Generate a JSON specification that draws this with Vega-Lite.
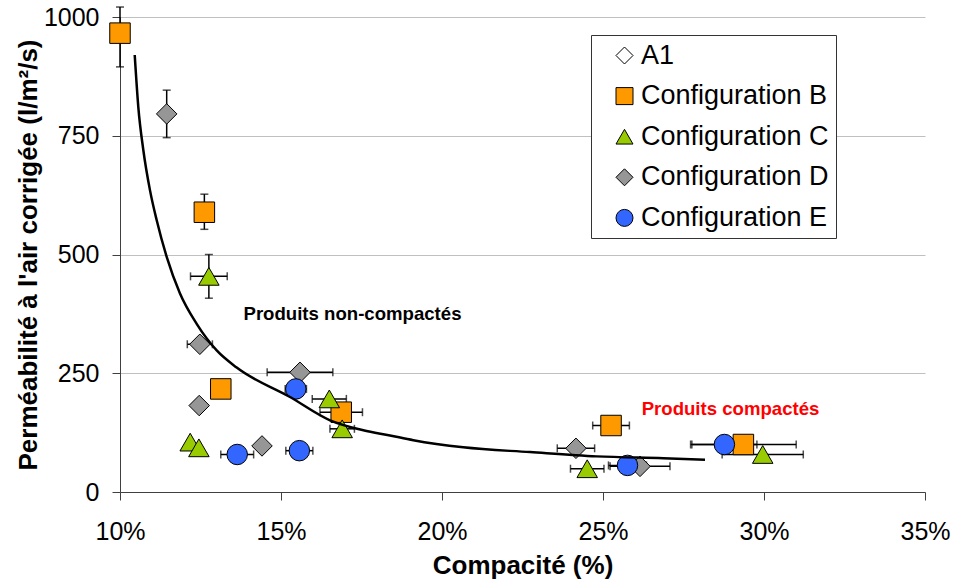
{
  "$schema": "https://vega.github.io/schema/vega-lite/v6.json",
  "width": 805,
  "height": 475,
  "autosize": {"type": "none"},
  "padding": {"left": 120, "top": 17, "right": 29, "bottom": 92},
  "background": "white",
  "config": {
    "font": "Liberation Sans",
    "view": {"stroke": null},
    "axis": {
      "labelFont": "Liberation Sans",
      "titleFont": "Liberation Sans",
      "labelFontSize": 25,
      "titleFontSize": 26,
      "titleFontWeight": "bold",
      "labelColor": "black",
      "titleColor": "black",
      "domainColor": "#404040",
      "tickColor": "#404040",
      "tickSize": 8,
      "domainWidth": 1,
      "tickWidth": 1,
      "labelFlush": false
    },
    "legend": {
      "orient": "none",
      "legendX": 471,
      "legendY": 18,
      "strokeColor": "#333333",
      "fillColor": "white",
      "padding": 7,
      "symbolOffset": 13,
      "labelOffset": 3,
      "rowPadding": 12.6,
      "labelFont": "Liberation Sans",
      "labelFontSize": 27,
      "labelLimit": 400,
      "labelColor": "black",
      "symbolSize": 289,
      "symbolStrokeColor": "black",
      "symbolStrokeWidth": 1
    }
  },
  "datasets": {
    "pts": [
      {"config": "Configuration B", "x": 10.0, "y": 966, "ylo": 895, "yhi": 1021},
      {"config": "Configuration B", "x": 12.62, "y": 589, "ylo": 553, "yhi": 627},
      {"config": "Configuration B", "x": 13.13, "y": 217},
      {"config": "Configuration B", "x": 16.87, "y": 168, "xlo": 16.21, "xhi": 17.53},
      {"config": "Configuration B", "x": 25.25, "y": 140, "xlo": 24.68, "xhi": 25.82},
      {"config": "Configuration B", "x": 29.36, "y": 100, "xlo": 27.72, "xhi": 31.0},
      {"config": "Configuration C", "x": 12.76, "y": 454, "xlo": 12.19, "xhi": 13.33, "ylo": 408, "yhi": 500},
      {"config": "Configuration C", "x": 12.18, "y": 105},
      {"config": "Configuration C", "x": 12.45, "y": 93},
      {"config": "Configuration C", "x": 16.5, "y": 196, "xlo": 15.97, "xhi": 17.03},
      {"config": "Configuration C", "x": 16.9, "y": 133, "xlo": 16.52, "xhi": 17.28},
      {"config": "Configuration C", "x": 24.51, "y": 49, "xlo": 23.99, "xhi": 25.03},
      {"config": "Configuration C", "x": 29.96, "y": 79, "xlo": 28.7, "xhi": 31.22},
      {"config": "Configuration D", "x": 11.45, "y": 796, "ylo": 746, "yhi": 846},
      {"config": "Configuration D", "x": 12.48, "y": 311, "xlo": 12.09, "xhi": 12.87},
      {"config": "Configuration D", "x": 15.59, "y": 252, "xlo": 14.57, "xhi": 16.61},
      {"config": "Configuration D", "x": 12.46, "y": 182},
      {"config": "Configuration D", "x": 14.41, "y": 97},
      {"config": "Configuration D", "x": 24.16, "y": 92, "xlo": 23.58, "xhi": 24.74},
      {"config": "Configuration D", "x": 26.15, "y": 54, "xlo": 25.22, "xhi": 27.08},
      {"config": "Configuration E", "x": 15.46, "y": 217, "xlo": 15.13, "xhi": 15.79},
      {"config": "Configuration E", "x": 13.64, "y": 79, "xlo": 13.13, "xhi": 14.15},
      {"config": "Configuration E", "x": 15.57, "y": 87, "xlo": 15.15, "xhi": 15.99},
      {"config": "Configuration E", "x": 25.76, "y": 56, "xlo": 25.17, "xhi": 26.35},
      {"config": "Configuration E", "x": 28.77, "y": 100, "xlo": 27.76, "xhi": 29.78}
    ],
    "curve": [
      {"x": 10.457, "y": 920},
      {"x": 10.568, "y": 811},
      {"x": 10.724, "y": 720},
      {"x": 10.932, "y": 635},
      {"x": 11.14, "y": 572},
      {"x": 11.45, "y": 495},
      {"x": 11.863, "y": 418},
      {"x": 12.382, "y": 354},
      {"x": 13.003, "y": 298},
      {"x": 13.624, "y": 262},
      {"x": 15.28, "y": 200},
      {"x": 16.522, "y": 151},
      {"x": 17.556, "y": 130},
      {"x": 18.385, "y": 119},
      {"x": 19.109, "y": 109},
      {"x": 20.661, "y": 94},
      {"x": 22.733, "y": 84},
      {"x": 24.804, "y": 75},
      {"x": 26.873, "y": 71},
      {"x": 28.168, "y": 68}
    ]
  },
  "encoding": {
    "x": {"type": "quantitative"},
    "y": {"type": "quantitative"}
  },
  "layer": [
    {
      "data": {"name": "pts"},
      "transform": [{"filter": "isValid(datum.xlo)"}],
      "mark": {"type": "rule", "color": "black", "strokeWidth": 1.5},
      "encoding": {
        "x": {"field": "xlo", "type": "quantitative", "scale": {"domain": [10, 35], "nice": false},
          "axis": {"values": [10, 15, 20, 25, 30, 35], "labelExpr": "datum.value + '%'", "grid": false, "title": "Compacité (%)", "labelPadding": 19, "titlePadding": 8}},
        "x2": {"field": "xhi"},
        "y": {"field": "y", "type": "quantitative", "scale": {"domain": [0, 1000], "nice": false},
          "axis": {"values": [0, 250, 500, 750, 1000], "format": "d", "grid": true, "gridColor": "#c0c0c0", "title": "Perméabilité à l'air corrigée (l/m²/s)", "labelPadding": 13, "titlePadding": 2}}
      }
    },
    {
      "data": {"name": "pts"},
      "transform": [{"filter": "isValid(datum.xlo)"}],
      "mark": {"type": "tick", "orient": "vertical", "color": "black", "size": 8, "thickness": 1.5},
      "encoding": {"x": {"field": "xlo", "type": "quantitative"}, "y": {"field": "y", "type": "quantitative"}}
    },
    {
      "data": {"name": "pts"},
      "transform": [{"filter": "isValid(datum.xhi)"}],
      "mark": {"type": "tick", "orient": "vertical", "color": "black", "size": 8, "thickness": 1.5},
      "encoding": {"x": {"field": "xhi", "type": "quantitative"}, "y": {"field": "y", "type": "quantitative"}}
    },
    {
      "data": {"name": "pts"},
      "transform": [{"filter": "isValid(datum.ylo)"}],
      "mark": {"type": "rule", "color": "black", "strokeWidth": 1.5},
      "encoding": {"x": {"field": "x", "type": "quantitative"}, "y": {"field": "ylo", "type": "quantitative"}, "y2": {"field": "yhi"}}
    },
    {
      "data": {"name": "pts"},
      "transform": [{"filter": "isValid(datum.ylo)"}],
      "mark": {"type": "tick", "orient": "horizontal", "color": "black", "size": 8, "thickness": 1.5},
      "encoding": {"x": {"field": "x", "type": "quantitative"}, "y": {"field": "ylo", "type": "quantitative"}}
    },
    {
      "data": {"name": "pts"},
      "transform": [{"filter": "isValid(datum.yhi)"}],
      "mark": {"type": "tick", "orient": "horizontal", "color": "black", "size": 8, "thickness": 1.5},
      "encoding": {"x": {"field": "x", "type": "quantitative"}, "y": {"field": "yhi", "type": "quantitative"}}
    },
    {
      "data": {"name": "pts"},
      "mark": {"type": "point", "filled": true, "stroke": "black", "strokeWidth": 1, "size": 420, "opacity": 1},
      "encoding": {
        "x": {"field": "x", "type": "quantitative"},
        "y": {"field": "y", "type": "quantitative"},
        "color": {"field": "config", "type": "nominal",
          "scale": {"domain": ["A1", "Configuration B", "Configuration C", "Configuration D", "Configuration E"],
                    "range": ["white", "#FF9900", "#99CC00", "#969696", "#3366FF"]},
          "legend": {"title": null, "labelExpr": "datum.label + '\u2002\u2002'"}},
        "shape": {"field": "config", "type": "nominal",
          "scale": {"domain": ["A1", "Configuration B", "Configuration C", "Configuration D", "Configuration E"],
                    "range": ["diamond", "square", "triangle-up", "diamond", "circle"]},
          "legend": {"title": null, "labelExpr": "datum.label + '\u2002\u2002'"}}
      }
    },
    {
      "data": {"name": "curve"},
      "mark": {"type": "line", "color": "black", "strokeWidth": 2.5, "interpolate": "monotone"},
      "encoding": {"x": {"field": "x", "type": "quantitative"}, "y": {"field": "y", "type": "quantitative"}}
    },
    {
      "data": {"values": [{"label": "Produits non-compactés", "x": 17.22, "y": 374}]},
      "mark": {"type": "text", "fontWeight": "bold", "fontSize": 18.6, "color": "black", "align": "center", "baseline": "middle"},
      "encoding": {"x": {"field": "x", "type": "quantitative"}, "y": {"field": "y", "type": "quantitative"}, "text": {"field": "label"}}
    },
    {
      "data": {"values": [{"label": "Produits compactés", "x": 28.96, "y": 175}]},
      "mark": {"type": "text", "fontWeight": "bold", "fontSize": 18.6, "color": "#FF0000", "align": "center", "baseline": "middle"},
      "encoding": {"x": {"field": "x", "type": "quantitative"}, "y": {"field": "y", "type": "quantitative"}, "text": {"field": "label"}}
    }
  ]
}
